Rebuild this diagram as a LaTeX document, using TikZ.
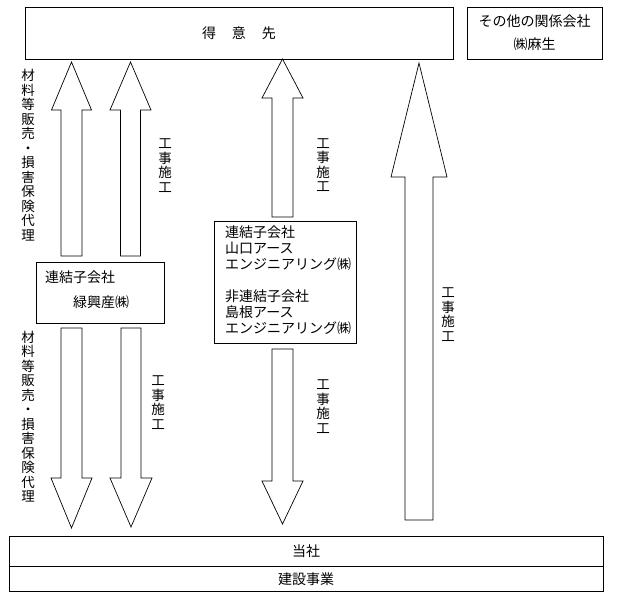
\documentclass[tikz,border=0pt]{standalone}
\usepackage{fontspec}
\setmainfont{Noto Sans CJK JP}
\tikzset{
  box/.style={draw, line width=0.8pt, inner sep=0pt},
  blockarrow/.style={draw, line width=0.7pt, line join=miter},
  tate/.style={align=center, inner sep=0pt, font=\fontsize{13.5}{14.5}\selectfont},
  jtext/.style={inner sep=0pt, font=\fontsize{14}{16}\selectfont},
}
\begin{document}
\begin{tikzpicture}[x=1pt, y=-1pt]
    \useasboundingbox (0,0) rectangle (618,601);
    % customers
    \node [box, jtext, minimum width=428pt, minimum height=52pt] (tokui) at (239,33) {得\hspace{16pt}意\hspace{16pt}先};
    % other related company
    \node [box, minimum width=135pt, minimum height=52pt, align=center, font=\fontsize{14}{23}\selectfont] (aso) at (534.5,33) {その他の関係会社\\㈱麻生};
    % consolidated subsidiary (left)
    \node [box, minimum width=128pt, minimum height=61pt] (midori) at (100,292.5) {};
    \node [jtext, anchor=west, align=left, font=\fontsize{14}{25}\selectfont] (midoritxt) at (45,289.5) {連結子会社\\\hspace{28pt}緑興産㈱};
    % subsidiaries (middle)
    \node [box, minimum width=142pt, minimum height=122pt] (yamaguchi) at (285,282) {};
    \node [jtext, anchor=west, align=left] (yamaguchitxt) at (225,280) {連結子会社\\山口アース\\エンジニアリング㈱\\[16pt]非連結子会社\\島根アース\\エンジニアリング㈱};
    % our company
    \node [box, jtext, minimum width=594pt, minimum height=30pt] (tosha) at (306,551) {当社};
    \node [box, jtext, minimum width=594pt, minimum height=25pt, anchor=north] (kensetsu) at (tosha.south) {建設事業};
    \draw [line width=1.6pt] (tosha.south west) -- (tosha.south east);
    % block arrows: x / tail / head base / tip / half shaft / half head
    \foreach \x/\ya/\yb/\yc/\s/\h in {71.5/256/110/62/10.5/20, 130.5/256/110/62/10/20.5,
        282.5/217/98/59/10.5/20.5, 419/520/177/63/14/28,
        71.5/328/478/528/10.5/20.5, 131/328/478/527/10/21, 282.5/349/481/524/10.5/20.5}
      \draw [blockarrow] (\x-\s,\ya) -- (\x-\s,\yb) -- (\x-\h,\yb) -- (\x,\yc)
        -- (\x+\h,\yb) -- (\x+\s,\yb) -- (\x+\s,\ya) -- cycle;
    % vertical labels
    \node [tate] (hanbai1) at (28,155) {材\\料\\等\\販\\売\\・\\損\\害\\保\\険\\代\\理};
    \node [tate] (hanbai2) at (28,416.5) {材\\料\\等\\販\\売\\・\\損\\害\\保\\険\\代\\理};
    \node [tate] (koji1) at (165,165.5) {工\\事\\施\\工};
    \node [tate] (koji2) at (158,402.5) {工\\事\\施\\工};
    \node [tate] (koji3) at (323,165) {工\\事\\施\\工};
    \node [tate] (koji4) at (323,406.5) {工\\事\\施\\工};
    \node [tate] (koji5) at (448,314.5) {工\\事\\施\\工};
\end{tikzpicture}
\end{document}
